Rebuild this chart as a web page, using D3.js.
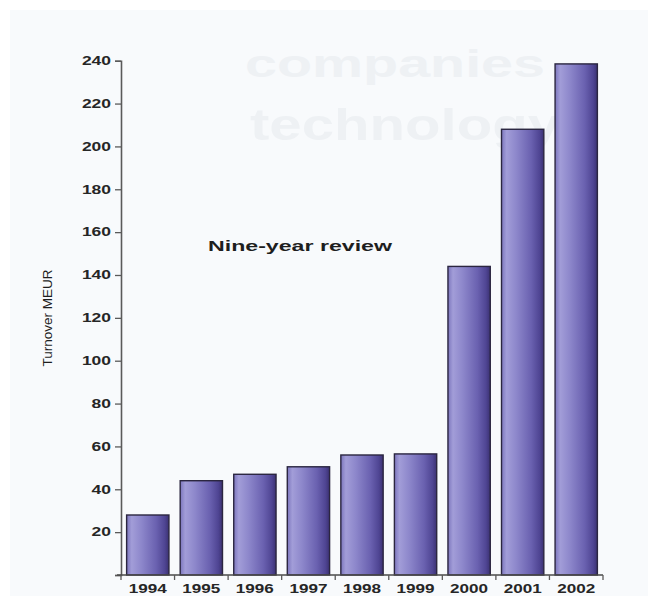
<!DOCTYPE html>
<html>
<head>
<meta charset="utf-8">
<script src="https://cdn.jsdelivr.net/npm/d3@7"></script>
<style>
  html, body { margin: 0; padding: 0; background: #ffffff; }
  svg { display: block; }
</style>
</head>
<body>
<svg id="chart" width="648" height="596"></svg>
<script>
// Turnover by year, MEUR
const years = ["1994", "1995", "1996", "1997", "1998", "1999", "2000", "2001", "2002"];
const turnover = [28, 44, 47, 50.5, 56, 56.5, 144, 208, 238.5];
const yTicks = [0, 20, 40, 60, 80, 100, 120, 140, 160, 180, 200, 220, 240];
const titleText = "Nine-year review";
const yLabel = "Turnover MEUR";
const backdropWords = ["companies", "technology"];

const svg = d3.select("#chart");
const W = 648, H = 596;
const plotLeft = 121, plotRight = 603, plotTop = 60.7, plotBottom = 575;

// paper tone
svg.append("rect").attr("x", 10).attr("y", 10).attr("width", W - 10).attr("height", H - 10)
  .attr("fill", "#f8fafc");

// faint print from the reverse page
const ghost = svg.append("g").attr("fill", "#eef1f4")
  .style("font-family", "'Liberation Sans', Arial, sans-serif").style("font-weight", "bold");
ghost.append("text").attr("x", 245).attr("y", 77).attr("font-size", 38)
  .attr("textLength", 300).attr("lengthAdjust", "spacingAndGlyphs").text(backdropWords[0]);
ghost.append("text").attr("x", 250).attr("y", 140).attr("font-size", 44)
  .attr("textLength", 310).attr("lengthAdjust", "spacingAndGlyphs").text(backdropWords[1]);

const x = d3.scaleBand().domain(years).range([plotLeft, plotRight]).paddingInner(0.21).paddingOuter(0.105);
const y = d3.scaleLinear().domain([0, 240]).range([plotBottom, plotTop]);

// bar shading
const defs = svg.append("defs");
const grad = defs.append("linearGradient").attr("id", "barGrad")
  .attr("x1", "0%").attr("x2", "100%").attr("y1", "0%").attr("y2", "0%");
[[0, "#7c76bd"], [0.12, "#a29dd8"], [0.35, "#8d87cb"], [0.7, "#6a61b0"], [0.9, "#4f4593"], [1, "#3b3172"]]
  .forEach(([o, c]) => grad.append("stop").attr("offset", o).attr("stop-color", c));

svg.append("g").selectAll("rect").data(years).join("rect")
  .attr("x", d => x(d))
  .attr("y", (d, i) => y(turnover[i]))
  .attr("width", x.bandwidth())
  .attr("height", (d, i) => y(0) - y(turnover[i]))
  .attr("fill", "url(#barGrad)")
  .attr("stroke", "#2b2640")
  .attr("stroke-width", 1.4);

const fontBold = "'Liberation Sans', Arial, Helvetica, sans-serif";

// y axis
const yAxis = svg.append("g").attr("transform", `translate(${plotLeft},0)`)
  .call(d3.axisLeft(y).tickValues(yTicks).tickSize(6).tickPadding(4)
    .tickFormat(d => d === 0 ? "" : d));
yAxis.select(".domain").attr("stroke", "#5a5a5a").attr("stroke-width", 1.6);
yAxis.selectAll(".tick line").attr("stroke", "#5a5a5a").attr("stroke-width", 1.3);
yAxis.selectAll(".tick text")
  .attr("fill", "#262626")
  .style("font-family", fontBold).style("font-weight", "bold").style("font-size", "12px")
  .attr("textLength", function () { return this.textContent.length * 9.7; })
  .attr("lengthAdjust", "spacingAndGlyphs");

// x axis with ticks at the band edges
const edges = years.map(d => x(d) - x.step() * x.paddingInner() / 2);
edges[0] = plotLeft;
edges.push(plotRight);
const xAxis = svg.append("g").attr("transform", `translate(0,${plotBottom})`);
xAxis.append("line").attr("x1", plotLeft - 4).attr("x2", plotRight).attr("y1", 0).attr("y2", 0)
  .attr("stroke", "#4a4a4a").attr("stroke-width", 1.6);
xAxis.selectAll("line.edge").data(edges).join("line").attr("class", "edge")
  .attr("x1", d => d).attr("x2", d => d).attr("y1", 0).attr("y2", 5)
  .attr("stroke", "#5a5a5a").attr("stroke-width", 1.3);
xAxis.selectAll("text").data(years).join("text")
  .attr("x", d => x(d) + x.bandwidth() / 2)
  .attr("y", 17.5)
  .attr("text-anchor", "middle")
  .attr("fill", "#262626")
  .style("font-family", fontBold).style("font-weight", "bold").style("font-size", "12px")
  .attr("textLength", 38).attr("lengthAdjust", "spacingAndGlyphs")
  .text(d => d);

// axis title
svg.append("text")
  .attr("transform", "translate(52,318) rotate(-90)")
  .attr("text-anchor", "middle")
  .attr("fill", "#1e1e1e")
  .style("font-family", "'Liberation Sans Narrow', 'Arial Narrow', 'Liberation Sans', sans-serif")
  .style("font-size", "13px")
  .attr("textLength", 97).attr("lengthAdjust", "spacingAndGlyphs")
  .text(yLabel);

// chart caption
svg.append("text")
  .attr("x", 208).attr("y", 251)
  .attr("fill", "#1e1e1e")
  .style("font-family", fontBold).style("font-weight", "bold").style("font-size", "15px")
  .attr("textLength", 184).attr("lengthAdjust", "spacingAndGlyphs")
  .text(titleText);
</script>
</body>
</html>
